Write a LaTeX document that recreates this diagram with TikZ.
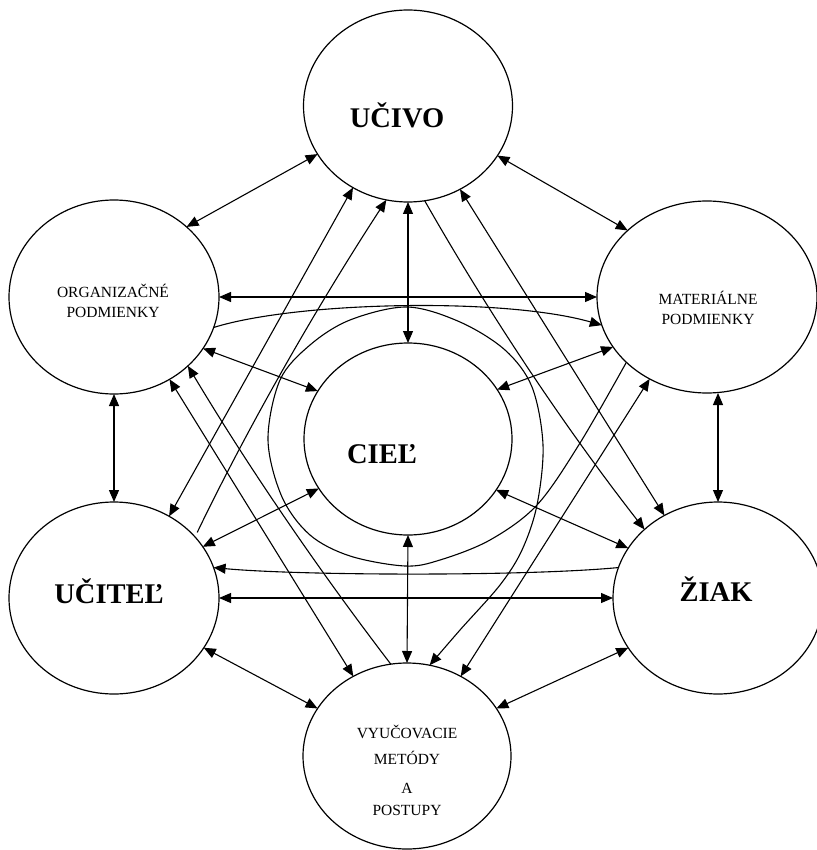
\documentclass[tikz,border=0pt]{standalone}
\usepackage{fontspec}
\setmainfont{Liberation Serif}
\usetikzlibrary{shapes.geometric,arrows.meta,calc}
\begin{document}
\begin{tikzpicture}[x=1pt,y=-1pt,
  ell/.style={draw, ellipse, line width=1.2pt, inner sep=0pt, outer sep=0pt},
  ah/.tip={Triangle[length=12pt,width=10pt]},
  bi/.style={line width=1.1pt, ah-ah},
  uni/.style={line width=1.1pt, -ah},
  big/.style={font=\fontsize{28.5}{34}\selectfont\bfseries, anchor=base, inner sep=0pt},
  small/.style={font=\fontsize{15.5}{20}\selectfont, anchor=base, align=center, inner sep=0pt}
]
\useasboundingbox (0,0) rectangle (816,850);
\fill[white] (0,0) rectangle (816,850);

% ellipses
\node[ell, minimum width=209pt, minimum height=192pt] (u) at (408,106) {};
\node[ell, minimum width=210pt, minimum height=194pt] (o) at (114,297) {};
\node[ell, minimum width=220pt, minimum height=192pt] (m) at (707,297) {};
\node[ell, minimum width=208pt, minimum height=192pt] (c) at (408,439) {};
\node[ell, minimum width=210pt, minimum height=192pt] (t) at (114,598) {};
\node[ell, minimum width=210pt, minimum height=192pt] (z) at (718,598) {};
\node[ell, minimum width=208pt, minimum height=186pt] (v) at (407,756) {};

% texts (base anchor = baseline of last line)
\node[big] (ut) at (397,128) {UČIVO};
\node[big] (ct) at (382,463) {CIEĽ};
\node[big] (tt) at (109,603) {UČITEĽ};
\node[big] (zt) at (716,601) {ŽIAK};
\node[small] (ot) at (113,317) {ORGANIZAČNÉ\\PODMIENKY};
\node[small] (mt) at (708,324) {MATERIÁLNE\\PODMIENKY};
\node[small] (vt) at (407,815) {VYUČOVACIE\\[6pt]METÓDY\\[9pt]A\\[2pt]POSTUPY};

% outer ring connections
\draw[bi] (u.208) -- (o.44);
\draw[bi] (u.331) -- (m.140);
\draw[bi] (o.south) -- (t.north);
\draw[bi] (z.north) -- (z.north |- m.south);
\draw[bi] (t.331) -- (v.152);
\draw[bi] (z.209) -- (v.28);

% connections with the centre
\draw[bi] (u.south) -- (c.north);
\draw[bi] (c.south) -- (v.north);
\draw[bi] (o.330) -- (c.152);
\draw[bi] (m.208) -- (c.29);
\draw[bi] (c.209) -- (t.30);
\draw[bi] (c.330) -- (z.151);

% horizontal connections
\draw[bi] (o.east) -- (m.west);
\draw[bi] (t.east) -- (z.west);
\draw[uni] (o.-17) .. controls +(83,-26) and +(-98,-28) .. (m.195);
\draw[uni] (z.163) .. controls +(-95,9) and +(85,8) .. (t.17);

% long diagonals
\draw[bi] (u.236) -- (t.56);
\draw[uni, shorten <=5pt] (t.37) .. controls +(55,-114) and +(-69,106) .. (u.257);
\draw[bi] (u.302) -- (z.123);
\draw[uni] (u.280) .. controls +(65,114) and +(-81,-104) .. (z.137);
\draw[bi] (o.304) -- (v.124);
\draw[ah-, line width=1.1pt] (o.317) .. controls +(61,102) and +(-72,-94) .. (v.100);
\draw[bi] (m.235) -- (v.56);

% spiral around the centre
\draw[uni] plot[smooth, tension=0.55] coordinates {(m.219) (580,443) (537,505) (490,540) (440,560) (405,566) (350,556) (310,535) (282,497) (268,440) (280,380) (310,345) (350,320) (407,307) (460,322) (505,350) (532,387) (543,445) (537,505) (522,550) (500,585) (460,630) (v.76)};
\end{tikzpicture}
\end{document}
